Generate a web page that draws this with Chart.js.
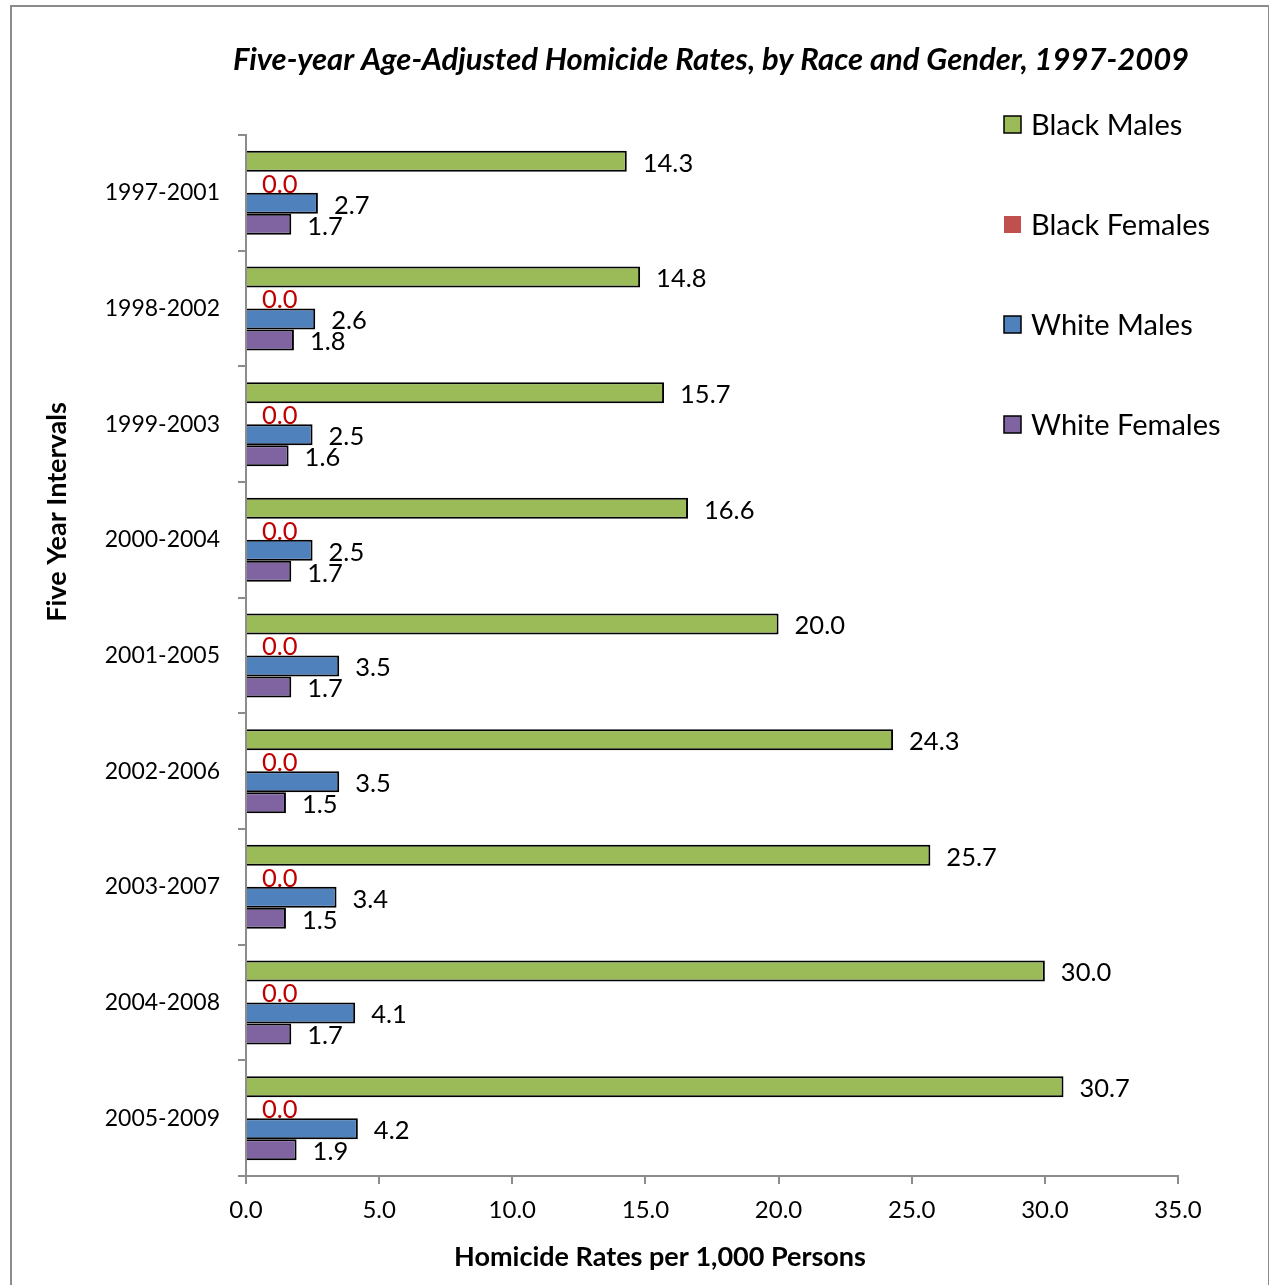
<!DOCTYPE html>
<html>
<head>
<meta charset="utf-8">
<script src="https://cdn.jsdelivr.net/npm/chart.js@4.4.1/dist/chart.umd.min.js"></script>
<style>
  body { margin: 0; background: #fff; }
  #frame { position: absolute; left: 10px; top: 5px; width: 1256px; height: 1300px; border: 2px solid #8c8c8c; }
  #chart { position: absolute; left: 0; top: 0; }
</style>
</head>
<body>
<div id="frame"></div>
<canvas id="chart" width="1269" height="1285"></canvas>
<script>
const intervals = ['1997-2001', '1998-2002', '1999-2003', '2000-2004', '2001-2005', '2002-2006', '2003-2007', '2004-2008', '2005-2009'];
const blackMales = [14.3, 14.8, 15.7, 16.6, 20.0, 24.3, 25.7, 30.0, 30.7];
const blackFemales = [0.0, 0.0, 0.0, 0.0, 0.0, 0.0, 0.0, 0.0, 0.0];
const whiteMales = [2.7, 2.6, 2.5, 2.5, 3.5, 3.5, 3.4, 4.1, 4.2];
const whiteFemales = [1.7, 1.8, 1.6, 1.7, 1.7, 1.5, 1.5, 1.7, 1.9];
const xTicks = [0, 5, 10, 15, 20, 25, 30, 35];

const FONT = 'Lato, "Open Sans", sans-serif';

// titles, legend and value labels are drawn by hand, like the Excel original
const extras = {
  id: 'extras',
  afterDatasetsDraw(chart) {
    const ctx = chart.ctx;
    ctx.save();
    ctx.textBaseline = 'middle';
    ctx.textAlign = 'left';
    ctx.font = '25.5px ' + FONT;
    chart.data.datasets.forEach((ds, i) => {
      const meta = chart.getDatasetMeta(i);
      meta.data.forEach((bar, j) => {
        ctx.fillStyle = ds.labelColor;
        ctx.fillText(ds.data[j].toFixed(1), bar.x + 16, bar.y + 2);
      });
    });
    ctx.restore();
  },
  afterDraw(chart) {
    const ctx = chart.ctx;
    ctx.save();
    ctx.fillStyle = '#000';
    ctx.textBaseline = 'middle';
    ctx.textAlign = 'center';

    ctx.font = 'italic bold 31px ' + FONT;
    ctx.fillText('Five-year Age-Adjusted Homicide Rates, by Race and Gender, 1997-2009', 711, 60);

    ctx.font = 'bold 27px ' + FONT;
    ctx.fillText('Homicide Rates per 1,000 Persons', 660, 1257);

    ctx.save();
    ctx.translate(57, 512);
    ctx.rotate(-Math.PI / 2);
    ctx.fillText('Five Year Intervals', 0, 0);
    ctx.restore();

    // legend
    ctx.textAlign = 'left';
    ctx.font = '29px ' + FONT;
    chart.data.datasets.forEach((ds, i) => {
      const y = 125 + i * 100;
      ctx.fillStyle = ds.backgroundColor;
      ctx.fillRect(1004, y - 9, 17, 17);
      if (ds.borderWidth) {
        ctx.strokeStyle = '#000';
        ctx.lineWidth = 1.5;
        ctx.strokeRect(1004, y - 9, 17, 17);
      }
      ctx.fillStyle = '#000';
      ctx.fillText(ds.label, 1031, y + 1);
    });
    ctx.restore();
  }
};

new Chart(document.getElementById('chart'), {
  type: 'bar',
  data: {
    labels: intervals,
    datasets: [
      { label: 'Black Males', data: blackMales, backgroundColor: '#9BBB59', borderColor: '#000', borderWidth: 2, labelColor: '#000' },
      { label: 'Black Females', data: blackFemales, backgroundColor: '#C0504D', borderColor: '#000', borderWidth: 0, labelColor: '#C00000' },
      { label: 'White Males', data: whiteMales, backgroundColor: '#4F81BD', borderColor: '#000', borderWidth: 2, labelColor: '#000' },
      { label: 'White Females', data: whiteFemales, backgroundColor: '#8064A2', borderColor: '#000', borderWidth: 2, labelColor: '#000' }
    ]
  },
  options: {
    indexAxis: 'y',
    responsive: false,
    animation: false,
    layout: { padding: { top: 135, right: 91, bottom: 0, left: 0 } },
    datasets: { bar: { categoryPercentage: 0.726, barPercentage: 1.0 } },
    plugins: {
      legend: { display: false },
      title: { display: false },
      tooltip: { enabled: false }
    },
    scales: {
      x: {
        min: 0,
        max: 35,
        afterFit: s => { s.height = 109; },
        afterBuildTicks: s => { s.ticks = xTicks.map(v => ({ value: v })); },
        ticks: {
          color: '#000',
          padding: 12,
          font: { family: FONT, size: 24 },
          callback: v => Number(v).toFixed(1)
        },
        grid: { drawOnChartArea: false, drawTicks: true, tickLength: 8, color: '#8c8c8c', lineWidth: 2 },
        border: { color: '#8c8c8c', width: 2 }
      },
      y: {
        afterFit: s => { s.width = 246; },
        ticks: {
          color: '#000',
          padding: 18,
          font: { family: FONT, size: 23 }
        },
        grid: { offset: true, drawOnChartArea: false, drawTicks: true, tickLength: 8, color: '#8c8c8c', lineWidth: 2 },
        border: { color: '#8c8c8c', width: 2 }
      }
    }
  },
  plugins: [extras]
});
</script>
</body>
</html>
